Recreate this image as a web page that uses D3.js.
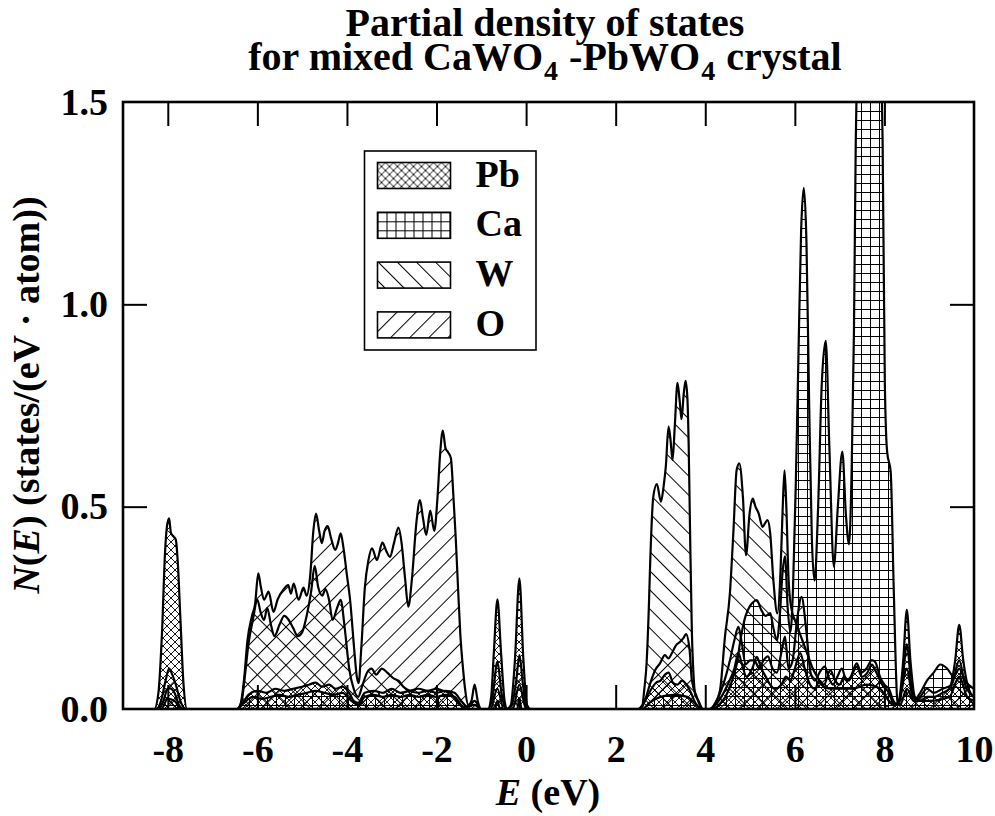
<!DOCTYPE html>
<html>
<head>
<meta charset="utf-8">
<script src="https://cdn.jsdelivr.net/npm/d3@7"></script>
<style>
  body { margin: 0; background: #fff; }
  text { font-family: "Liberation Serif", "Times New Roman", serif; font-weight: bold; fill: #000; }
</style>
</head>
<body>
<svg id="chart" width="995" height="816"></svg>
<script>
// partial DOS: [energy (eV), N(E)]
var pbPoints = [
  [-9,0],[-8.3,0],[-8.21,0.039],[-8.13,0.187],[-8.06,0.39],[-8.02,0.45],[-7.97,0.471],[-7.93,0.435],
  [-7.87,0.426],[-7.82,0.418],[-7.78,0.368],[-7.72,0.228],[-7.65,0.063],[-7.57,0],
  [-6.45,0],[-6.3,0.02],[-6.2,0.035],[-6.0,0.045],[-5.8,0.04],[-5.6,0.05],[-5.4,0.045],[-5.2,0.05],
  [-5.0,0.055],[-4.85,0.06],[-4.7,0.065],[-4.55,0.055],[-4.4,0.06],[-4.25,0.05],[-4.1,0.055],
  [-3.95,0.04],[-3.85,0.02],[-3.75,0.015],[-3.6,0.04],[-3.4,0.045],[-3.2,0.04],[-3.0,0.05],
  [-2.8,0.04],[-2.6,0.045],[-2.4,0.05],[-2.2,0.045],[-2.0,0.05],[-1.85,0.045],[-1.7,0.04],
  [-1.55,0.02],[-1.4,0.005],[-1.15,0.01],[-1.0,0],
  [-0.85,0],[-0.78,0.03],[-0.72,0.14],[-0.64,0.271],[-0.56,0.14],[-0.48,0.02],[-0.42,0],
  [-0.34,0.01],[-0.25,0.12],[-0.15,0.323],[-0.06,0.12],[0.02,0.01],[0.1,0],
  [2.5,0],[2.6,0.01],[2.7,0.03],[2.8,0.05],[2.9,0.065],[3.0,0.07],[3.1,0.085],[3.18,0.09],
  [3.28,0.065],[3.38,0.06],[3.48,0.07],[3.58,0.06],[3.68,0.04],[3.78,0.015],[3.9,0],
  [4.1,0],[4.3,0.02],[4.5,0.06],[4.65,0.1],[4.74,0.138],[4.82,0.11],[4.92,0.08],[5.05,0.1],
  [5.15,0.129],[5.25,0.1],[5.35,0.08],[5.45,0.06],[5.55,0.05],[5.7,0.06],[5.8,0.08],[5.9,0.07],
  [6.0,0.1],[6.12,0.138],[6.22,0.1],[6.34,0.06],[6.45,0.05],[6.55,0.07],[6.65,0.06],[6.79,0.096],
  [6.9,0.07],[7.0,0.06],[7.1,0.08],[7.2,0.07],[7.3,0.09],[7.38,0.105],[7.5,0.08],[7.62,0.09],
  [7.72,0.11],[7.82,0.09],[7.95,0.06],[8.1,0.04],[8.22,0.01],[8.32,0.02],[8.42,0.12],[8.5,0.245],
  [8.58,0.12],[8.68,0.03],[8.8,0.02],[8.95,0.03],[9.1,0.03],[9.3,0.04],[9.45,0.05],[9.58,0.12],
  [9.67,0.208],[9.76,0.12],[9.88,0.05],[10,0.03]
];

var caPoints = [
  [-9,0],[-8.15,0],[-8.0,0.025],[-7.85,0.02],[-7.7,0],
  [-6.45,0],[-6.3,0.015],[-6.1,0.03],[-5.9,0.025],[-5.7,0.03],[-5.5,0.035],[-5.3,0.03],[-5.1,0.035],
  [-4.9,0.04],[-4.7,0.045],[-4.5,0.04],[-4.3,0.035],[-4.1,0.04],[-3.9,0.02],[-3.75,0.01],[-3.6,0.03],
  [-3.4,0.035],[-3.2,0.03],[-3.0,0.035],[-2.8,0.03],[-2.6,0.035],[-2.4,0.03],[-2.2,0.035],[-2.0,0.03],
  [-1.8,0.035],[-1.6,0.03],[-1.45,0.01],[-1.3,0],
  [-0.7,0],[-0.64,0.02],[-0.58,0],[-0.2,0],[-0.15,0.025],[-0.1,0],
  [2.6,0],[2.75,0.015],[3.0,0.03],[3.3,0.035],[3.6,0.03],[3.8,0.01],[3.95,0],
  [4.15,0],[4.3,0.01],[4.45,0.03],[4.6,0.07],[4.7,0.11],[4.8,0.18],[4.9,0.23],[5.0,0.255],
  [5.08,0.265],[5.15,0.269],[5.25,0.245],[5.35,0.23],[5.45,0.237],[5.52,0.2],[5.6,0.17],[5.67,0.24],
  [5.72,0.33],[5.78,0.377],[5.84,0.25],[5.9,0.19],[5.96,0.3],[6.02,0.55],[6.08,0.87],[6.14,1.18],
  [6.2,1.288],[6.26,1.15],[6.32,0.75],[6.38,0.42],[6.44,0.317],[6.52,0.5],[6.6,0.8],[6.69,0.91],
  [6.77,0.65],[6.87,0.352],[6.96,0.5],[7.06,0.636],[7.14,0.48],[7.21,0.407],[7.27,0.6],[7.32,0.935],
  [7.36,1.4],[7.42,1.8],[7.5,2.05],[7.6,2.2],[7.7,2.15],[7.8,2.05],[7.9,1.8],[7.96,1.4],[8.01,0.8],
  [8.06,0.636],[8.14,0.586],[8.21,0.287],[8.29,0.02],[8.35,0.01],[8.5,0.05],[8.65,0.02],[8.8,0.04],
  [8.95,0.07],[9.1,0.09],[9.25,0.11],[9.4,0.1],[9.55,0.08],[9.67,0.1],[9.8,0.07],[10,0.05]
];

var wPoints = [
  [-9,0],[-8.2,0],[-8.1,0.02],[-8.0,0.05],[-7.95,0.051],[-7.85,0.04],[-7.75,0.01],[-7.65,0],
  [-6.45,0],[-6.35,0.02],[-6.28,0.08],[-6.2,0.16],[-6.1,0.22],[-6.0,0.27],[-5.93,0.24],[-5.85,0.22],
  [-5.78,0.25],[-5.7,0.21],[-5.62,0.18],[-5.5,0.21],[-5.4,0.23],[-5.3,0.22],[-5.2,0.2],[-5.1,0.18],
  [-5.0,0.19],[-4.9,0.23],[-4.8,0.29],[-4.72,0.354],[-4.64,0.3],[-4.55,0.28],[-4.48,0.296],[-4.4,0.27],
  [-4.32,0.22],[-4.22,0.25],[-4.14,0.27],[-4.05,0.2],[-3.95,0.1],[-3.85,0.05],[-3.75,0.03],[-3.65,0.06],
  [-3.55,0.09],[-3.45,0.1],[-3.35,0.085],[-3.22,0.1],[-3.1,0.09],[-2.95,0.075],[-2.85,0.07],
  [-2.74,0.055],[-2.6,0.045],[-2.4,0.04],[-2.2,0.045],[-2.0,0.04],[-1.8,0.045],[-1.6,0.04],
  [-1.45,0.02],[-1.3,0.005],[-1.15,0.02],[-1.0,0],
  [-0.8,0],[-0.64,0.05],[-0.5,0],[-0.3,0],[-0.15,0.06],[0,0],
  [2.5,0],[2.58,0],[2.64,0.05],[2.69,0.113],[2.74,0.25],[2.77,0.36],[2.84,0.525],[2.92,0.556],
  [3.01,0.512],[3.07,0.55],[3.12,0.6],[3.18,0.698],[3.22,0.67],[3.27,0.615],[3.32,0.7],[3.38,0.806],
  [3.43,0.76],[3.47,0.716],[3.52,0.78],[3.56,0.811],[3.6,0.77],[3.63,0.65],[3.66,0.442],[3.7,0.195],
  [3.74,0.08],[3.77,0.039],[3.85,0.02],[3.95,0],
  [4.1,0],[4.2,0.01],[4.33,0.047],[4.44,0.179],[4.55,0.286],[4.63,0.442],[4.7,0.59],[4.76,0.607],
  [4.84,0.525],[4.91,0.38],[4.99,0.484],[5.06,0.52],[5.12,0.5],[5.19,0.484],[5.28,0.45],[5.34,0.46],
  [5.39,0.467],[5.45,0.434],[5.52,0.319],[5.61,0.236],[5.68,0.34],[5.73,0.5],[5.77,0.59],[5.81,0.5],
  [5.86,0.32],[5.92,0.25],[6.0,0.22],[6.1,0.19],[6.2,0.16],[6.3,0.13],[6.4,0.1],[6.5,0.08],[6.6,0.06],
  [6.8,0.05],[7.0,0.05],[7.3,0.05],[7.6,0.06],[7.9,0.05],[8.2,0.01],[8.3,0.01],[8.5,0.1],[8.65,0.02],
  [9.0,0.02],[9.45,0.03],[9.67,0.08],[9.85,0.03],[10,0.02]
];

var oPoints = [
  [-9,0],[-8.25,0],[-8.15,0.02],[-8.05,0.07],[-7.97,0.1],[-7.9,0.085],[-7.82,0.06],[-7.72,0.02],[-7.6,0],
  [-6.45,0],[-6.38,0.01],[-6.3,0.07],[-6.22,0.17],[-6.12,0.23],[-6.05,0.26],[-5.98,0.335],[-5.92,0.3],
  [-5.85,0.27],[-5.75,0.29],[-5.64,0.24],[-5.55,0.27],[-5.42,0.295],[-5.31,0.306],[-5.25,0.285],
  [-5.19,0.31],[-5.08,0.27],[-4.97,0.3],[-4.9,0.28],[-4.82,0.33],[-4.75,0.44],[-4.69,0.483],[-4.62,0.44],
  [-4.56,0.41],[-4.5,0.44],[-4.43,0.452],[-4.35,0.42],[-4.26,0.393],[-4.2,0.41],[-4.14,0.434],
  [-4.08,0.4],[-4.0,0.33],[-3.93,0.27],[-3.84,0.15],[-3.78,0.08],[-3.74,0.064],[-3.68,0.15],[-3.6,0.3],
  [-3.52,0.368],[-3.44,0.397],[-3.33,0.368],[-3.21,0.411],[-3.12,0.39],[-3.04,0.376],[-2.95,0.41],
  [-2.85,0.448],[-2.78,0.41],[-2.7,0.32],[-2.63,0.253],[-2.55,0.32],[-2.45,0.46],[-2.37,0.516],
  [-2.3,0.47],[-2.23,0.43],[-2.14,0.49],[-2.05,0.44],[-1.98,0.52],[-1.92,0.63],[-1.86,0.688],
  [-1.8,0.645],[-1.74,0.634],[-1.68,0.62],[-1.62,0.52],[-1.57,0.42],[-1.52,0.3],[-1.47,0.187],
  [-1.4,0.09],[-1.36,0.047],[-1.29,0.01],[-1.22,0.02],[-1.15,0.06],[-1.08,0.02],[-1.0,0],
  [-0.85,0],[-0.75,0.03],[-0.64,0.117],[-0.55,0.04],[-0.45,0],[-0.32,0.01],[-0.22,0.07],[-0.15,0.133],
  [-0.07,0.06],[0.02,0],[2.55,0],[2.65,0.02],[2.77,0.063],[2.88,0.096],[2.99,0.113],[3.1,0.133],
  [3.18,0.125],[3.25,0.137],[3.35,0.158],[3.44,0.166],[3.51,0.175],[3.57,0.185],[3.65,0.146],
  [3.7,0.072],[3.81,0.03],[3.93,0],
  [4.1,0],[4.25,0.02],[4.4,0.06],[4.55,0.12],[4.65,0.17],[4.74,0.203],[4.82,0.16],[4.9,0.11],[5.0,0.12],
  [5.1,0.12],[5.2,0.1],[5.3,0.12],[5.4,0.13],[5.5,0.1],[5.6,0.09],[5.7,0.14],[5.78,0.179],[5.86,0.1],
  [5.95,0.12],[6.05,0.22],[6.15,0.277],[6.25,0.2],[6.35,0.09],[6.45,0.07],[6.55,0.09],[6.67,0.105],
  [6.75,0.08],[6.85,0.06],[6.95,0.08],[7.05,0.1],[7.15,0.07],[7.25,0.08],[7.38,0.113],[7.48,0.09],
  [7.6,0.1],[7.72,0.121],[7.8,0.115],[7.9,0.08],[8.0,0.06],[8.1,0.05],[8.2,0.02],[8.3,0.01],[8.4,0.06],
  [8.5,0.16],[8.6,0.06],[8.7,0.02],[8.8,0.03],[8.95,0.05],[9.1,0.04],[9.3,0.05],[9.5,0.06],[9.67,0.12],
  [9.8,0.06],[9.9,0.04],[10,0.03]
];

var species = ["Pb", "Ca", "W", "O"];
var xTicks = [-8, -6, -4, -2, 0, 2, 4, 6, 8, 10];
var yTicks = [0, 0.5, 1.0, 1.5];

var series = [
  {name: "Pb", pattern: "pat-pb", points: pbPoints},
  {name: "Ca", pattern: "pat-ca", points: caPoints},
  {name: "W",  pattern: "pat-w",  points: wPoints},
  {name: "O",  pattern: "pat-o",  points: oPoints}
];

var margin = {top: 102, right: 21, bottom: 107, left: 123},
    width = 995 - margin.left - margin.right,
    height = 816 - margin.top - margin.bottom;

var svgRoot = d3.select("#chart");
var defs = svgRoot.append("defs");

// hatch patterns
var p = defs.append("pattern").attr("id", "pat-pb")
  .attr("patternUnits", "userSpaceOnUse").attr("width", 8).attr("height", 8);
p.append("path").attr("d", "M0,0L8,8M8,0L0,8M-1,1L1,-1M7,9L9,7M-1,7L1,9M7,-1L9,1")
  .attr("stroke", "#000").attr("stroke-width", 0.9);

p = defs.append("pattern").attr("id", "pat-ca")
  .attr("patternUnits", "userSpaceOnUse").attr("width", 9).attr("height", 9);
p.append("path").attr("d", "M0,0.5H9M0.5,0V9")
  .attr("stroke", "#000").attr("stroke-width", 1);

p = defs.append("pattern").attr("id", "pat-w")
  .attr("patternUnits", "userSpaceOnUse").attr("width", 13.5).attr("height", 13.5)
  .attr("patternTransform", "rotate(-45)");
p.append("path").attr("d", "M0.5,0V13.5").attr("stroke", "#000").attr("stroke-width", 1);

p = defs.append("pattern").attr("id", "pat-o")
  .attr("patternUnits", "userSpaceOnUse").attr("width", 13.5).attr("height", 13.5)
  .attr("patternTransform", "rotate(45)");
p.append("path").attr("d", "M0.5,0V13.5").attr("stroke", "#000").attr("stroke-width", 1);

defs.append("clipPath").attr("id", "plot-clip")
  .append("rect").attr("width", width).attr("height", height);

var svg = svgRoot.append("g")
  .attr("transform", "translate(" + margin.left + "," + margin.top + ")");

var xScale = d3.scaleLinear().domain([-9, 10]).range([0, width]);
var yScale = d3.scaleLinear().domain([0, 1.5]).range([height, 0]);

var area = d3.area()
  .x(function(d) { return xScale(d[0]); })
  .y0(yScale(0))
  .y1(function(d) { return yScale(d[1]); })
  .curve(d3.curveMonotoneX);

var line = d3.line()
  .x(function(d) { return xScale(d[0]); })
  .y(function(d) { return yScale(d[1]); })
  .curve(d3.curveMonotoneX);

var plot = svg.append("g").attr("clip-path", "url(#plot-clip)");

plot.selectAll(".area")
  .data(series)
  .enter()
  .append("path")
    .attr("class", "area")
    .attr("d", function(d) { return area(d.points); })
    .attr("fill", function(d) { return "url(#" + d.pattern + ")"; });

plot.selectAll(".curve")
  .data(series)
  .enter()
  .append("path")
    .attr("class", "curve")
    .attr("d", function(d) { return line(d.points); })
    .attr("fill", "none")
    .attr("stroke", "#000")
    .attr("stroke-width", 2.2)
    .attr("stroke-linejoin", "round");

// axes, ticks pointing inward
var inner = xTicks.filter(function(t) { return t < 10; });
var xAxisBottom = svg.append("g")
  .attr("transform", "translate(0," + height + ")")
  .call(d3.axisBottom(xScale).tickValues(xTicks).tickSize(0).tickPadding(26)
    .tickFormat(function(d) { return d < 0 ? "-" + Math.abs(d) : String(d); }));
xAxisBottom.select(".domain").remove();
xAxisBottom.selectAll("text").style("font-size", "38px").style("font-family", null);

svg.append("g")
  .attr("transform", "translate(0," + height + ")")
  .call(d3.axisBottom(xScale).tickValues(inner).tickSize(-24).tickFormat(""))
  .call(function(g) { g.select(".domain").remove(); g.selectAll("line").attr("stroke-width", 2); });

svg.append("g")
  .call(d3.axisTop(xScale).tickValues(inner).tickSize(-24).tickFormat(""))
  .call(function(g) { g.select(".domain").remove(); g.selectAll("line").attr("stroke-width", 2); });

var yAxisLeft = svg.append("g")
  .call(d3.axisLeft(yScale).tickValues(yTicks).tickSize(0).tickPadding(15)
    .tickFormat(d3.format(".1f")));
yAxisLeft.select(".domain").remove();
yAxisLeft.selectAll("text").style("font-size", "38px").style("font-family", null);

svg.append("g")
  .call(d3.axisLeft(yScale).tickValues([0.5, 1.0]).tickSize(-24).tickFormat(""))
  .call(function(g) { g.select(".domain").remove(); g.selectAll("line").attr("stroke-width", 2); });

svg.append("g")
  .attr("transform", "translate(" + width + ",0)")
  .call(d3.axisRight(yScale).tickValues([0.5, 1.0]).tickSize(-24).tickFormat(""))
  .call(function(g) { g.select(".domain").remove(); g.selectAll("line").attr("stroke-width", 2); });

svg.append("rect")
  .attr("width", width)
  .attr("height", height)
  .attr("fill", "none")
  .attr("stroke", "#000")
  .attr("stroke-width", 2.6);

// legend
var legend = svgRoot.append("g").attr("transform", "translate(364.5,151)");
legend.append("rect")
  .attr("width", 171.5).attr("height", 199)
  .attr("fill", "#fff").attr("stroke", "#000").attr("stroke-width", 1.6);

var rows = legend.selectAll(".row")
  .data(series)
  .enter()
  .append("g")
    .attr("transform", function(d, i) { return "translate(13," + (11.5 + i * 49.8) + ")"; });
rows.append("rect")
  .attr("width", 73).attr("height", 26)
  .attr("fill", function(d) { return "url(#" + d.pattern + ")"; })
  .attr("stroke", "#000").attr("stroke-width", 1.6);
rows.append("text")
  .attr("x", 98).attr("y", 24)
  .style("font-size", "38px")
  .text(function(d) { return d.name; });

// titles
svgRoot.append("text")
  .attr("x", 545).attr("y", 36)
  .attr("text-anchor", "middle")
  .style("font-size", "40px")
  .text("Partial density of states");

var title2 = svgRoot.append("text")
  .attr("x", 545).attr("y", 70)
  .attr("text-anchor", "middle")
  .style("font-size", "40px");
title2.append("tspan").text("for mixed CaWO");
title2.append("tspan").attr("dx", 1).attr("baseline-shift", "-10").style("font-size", "28px").text("4");
title2.append("tspan").attr("dx", 1).text(" -PbWO");
title2.append("tspan").attr("dx", 1).attr("baseline-shift", "-10").style("font-size", "28px").text("4");
title2.append("tspan").attr("dx", 1).text(" crystal");

var xLabel = svgRoot.append("text")
  .attr("x", 548).attr("y", 805)
  .attr("text-anchor", "middle")
  .style("font-size", "38px");
xLabel.append("tspan").style("font-style", "italic").text("E");
xLabel.append("tspan").text(" (eV)");

var yLabel = svgRoot.append("text")
  .attr("transform", "translate(39,395) rotate(-90)")
  .attr("text-anchor", "middle")
  .style("font-size", "38px");
yLabel.append("tspan").style("font-style", "italic").text("N");
yLabel.append("tspan").text("(");
yLabel.append("tspan").style("font-style", "italic").text("E");
yLabel.append("tspan").text(") (states/(eV \u00b7 atom))");
</script>
</body>
</html>
